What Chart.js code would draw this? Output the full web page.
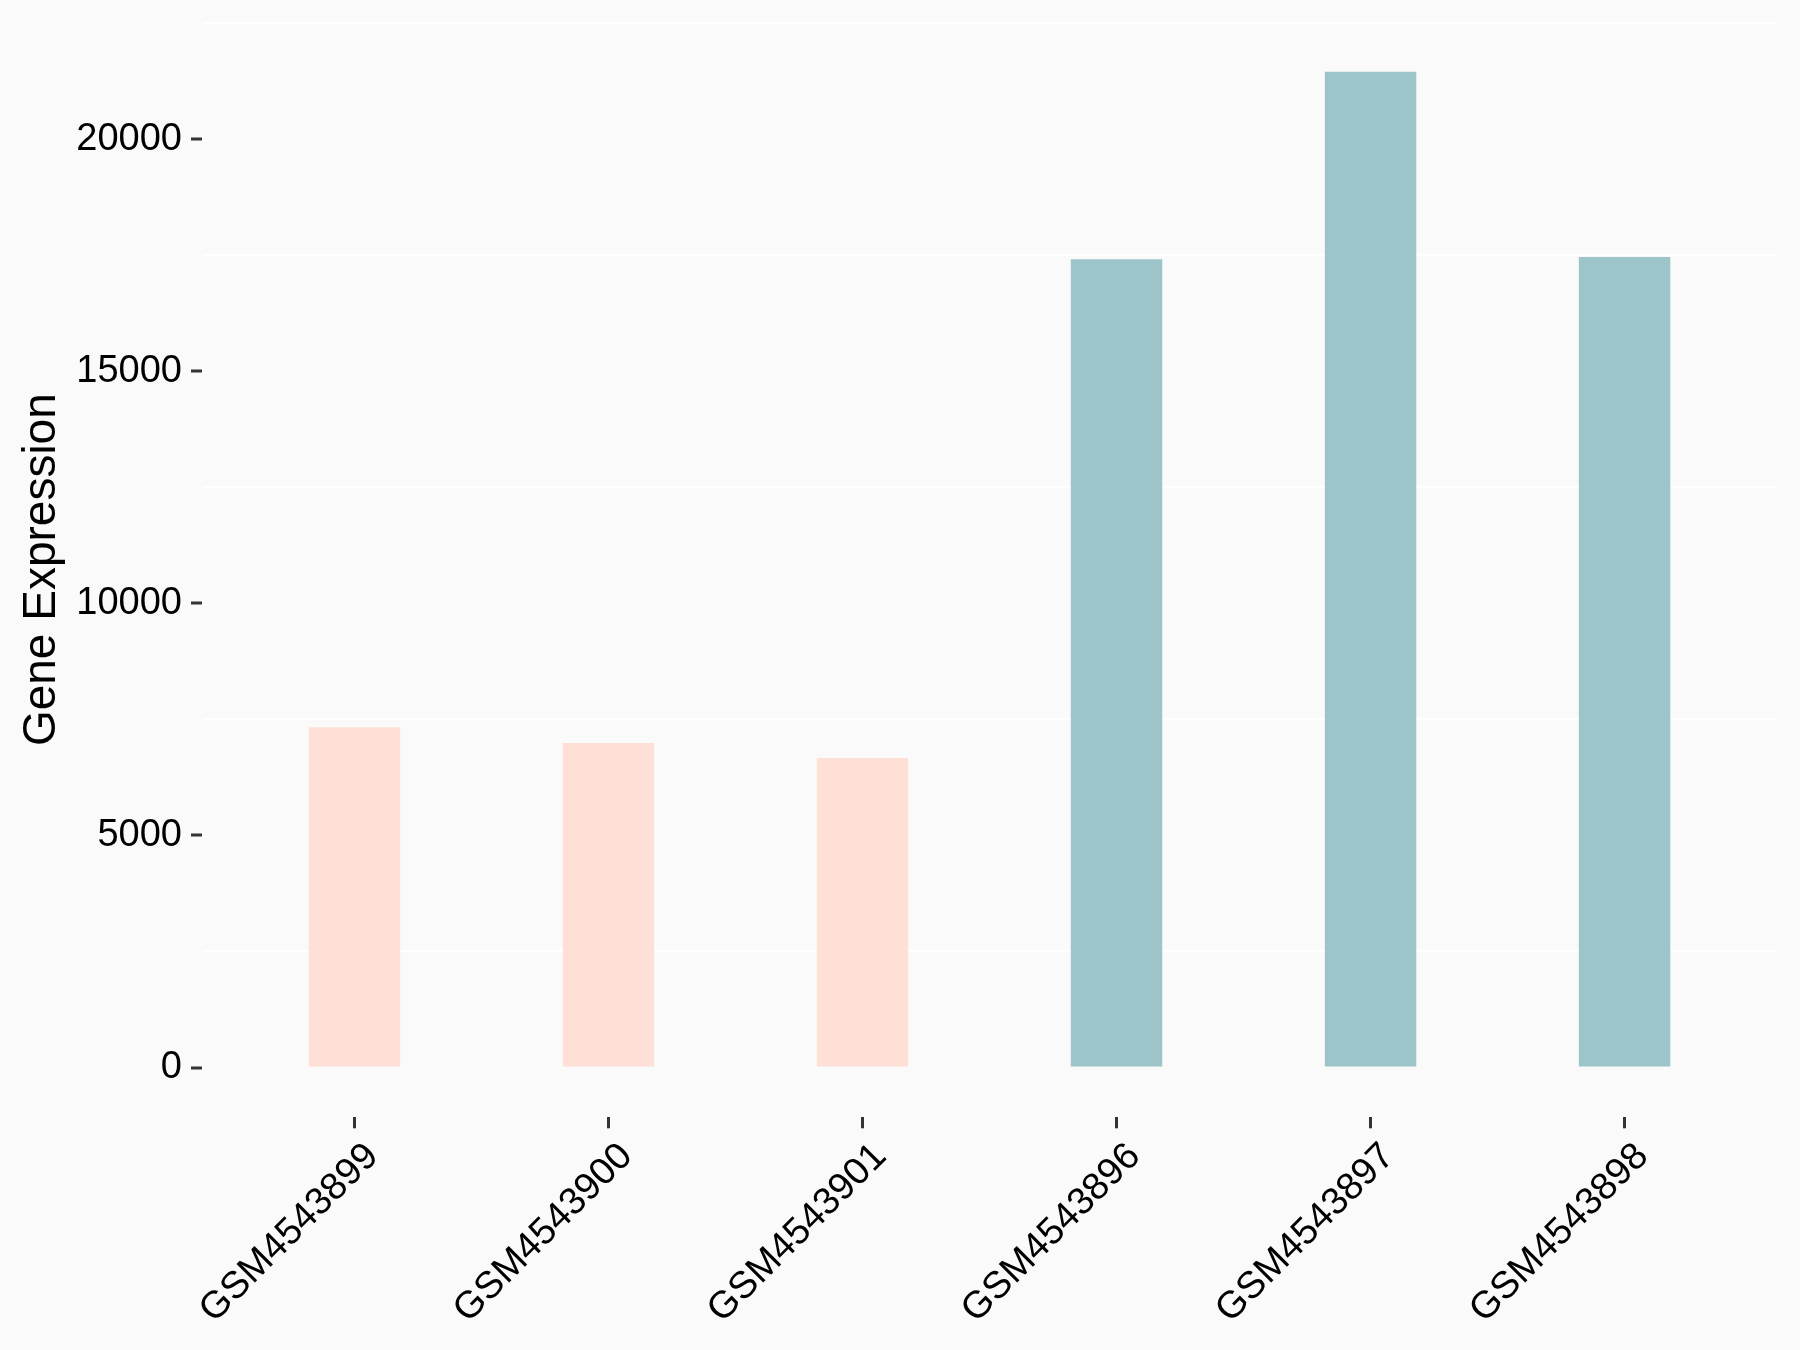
<!DOCTYPE html>
<html lang="en">
<head>
    <meta charset="UTF-8">
    <title>Gene Expression</title>
    <style>
        html, body { margin: 0; padding: 0; background: #fafafa; }
        #chartBox { width: 1800px; height: 1350px; }
    </style>
</head>
<body>

<div id="chartBox">
    <canvas id="myChart" width="1800" height="1350" aria-label="Gene expression bar chart" role="img"></canvas>
</div>

<script src="https://cdn.jsdelivr.net/npm/chart.js@4.4.1/dist/chart.umd.min.js"></script>
<script>
    // samples, in plotting order
    var samples = ['GSM4543899', 'GSM4543900', 'GSM4543901', 'GSM4543896', 'GSM4543897', 'GSM4543898'];
    var expression = [7330, 6990, 6670, 17410, 21450, 17460];
    var groups = ['A', 'A', 'A', 'B', 'B', 'B'];
    var groupColors = { A: '#fee0d6', B: '#9dc4c8' };

    var majorTicks = [0, 5000, 10000, 15000, 20000];
    var minorTicks = [2500, 7500, 12500, 17500, 22500];

    var fontFamily = '"Liberation Sans", Arial, sans-serif';

    // ggplot-like padding of the value range
    var yTop = Math.max.apply(null, expression) * 1.05;
    var yBottom = -Math.max.apply(null, expression) * 0.05;

    function createChart() {
        var ctx = document.getElementById('myChart').getContext('2d');
        new Chart(ctx, {
            type: 'bar',
            data: {
                datasets: [{
                    data: expression.map(function (v, i) { return { x: i + 1, y: v }; }),
                    backgroundColor: groups.map(function (g) { return groupColors[g]; }),
                    borderWidth: 0,
                    categoryPercentage: 1,
                    barPercentage: 0.36
                }]
            },
            options: {
                responsive: false,
                animation: false,
                layout: { padding: { top: 22, right: 23, left: 0, bottom: 0 } },
                plugins: {
                    legend: { display: false },
                    tooltip: { enabled: false }
                },
                scales: {
                    x: {
                        type: 'linear',
                        offset: false,
                        min: 0.4,
                        max: samples.length + 0.6,
                        border: { display: false },
                        afterBuildTicks: function (scale) {
                            scale.ticks = samples.map(function (s, i) { return { value: i + 1 }; });
                        },
                        afterFit: function (scale) {
                            scale.height = 232.7;
                            scale.paddingLeft = 0;
                            scale.paddingRight = 0;
                        },
                        grid: {
                            offset: false,
                            drawOnChartArea: false,
                            drawTicks: true,
                            tickLength: 11,
                            tickWidth: 3,
                            tickColor: '#333333',
                            color: '#333333'
                        },
                        ticks: {
                            autoSkip: false,
                            maxRotation: 45,
                            minRotation: 45,
                            padding: 6,
                            labelOffset: 18,
                            color: '#000000',
                            font: { family: fontFamily, size: 38 },
                            callback: function (value) { return samples[value - 1]; }
                        }
                    },
                    y: {
                        min: yBottom,
                        max: yTop,
                        border: { display: false },
                        afterBuildTicks: function (scale) {
                            scale.ticks = majorTicks.concat(minorTicks)
                                .sort(function (a, b) { return a - b; })
                                .map(function (v) { return { value: v }; });
                        },
                        afterFit: function (scale) {
                            scale.width = 202;
                            scale.paddingTop = 0;
                            scale.paddingBottom = 0;
                        },
                        grid: {
                            drawTicks: true,
                            tickLength: 11,
                            lineWidth: 2,
                            tickWidth: 3,
                            color: function (c) {
                                return minorTicks.indexOf(c.tick.value) >= 0 ? '#ffffff' : 'rgba(0,0,0,0)';
                            },
                            tickColor: function (c) {
                                return majorTicks.indexOf(c.tick.value) >= 0 ? '#333333' : 'rgba(0,0,0,0)';
                            }
                        },
                        ticks: {
                            padding: 9,
                            color: '#000000',
                            font: { family: fontFamily, size: 38 },
                            callback: function (value) {
                                return majorTicks.indexOf(value) >= 0 ? String(value) : '';
                            }
                        },
                        title: {
                            display: true,
                            text: 'Gene Expression',
                            color: '#000000',
                            font: { family: fontFamily, size: 46 },
                            padding: { top: 15, bottom: 0 }
                        }
                    }
                }
            }
        });
    }

    document.addEventListener('DOMContentLoaded', function () {
        createChart();
    });
</script>

</body>
</html>
